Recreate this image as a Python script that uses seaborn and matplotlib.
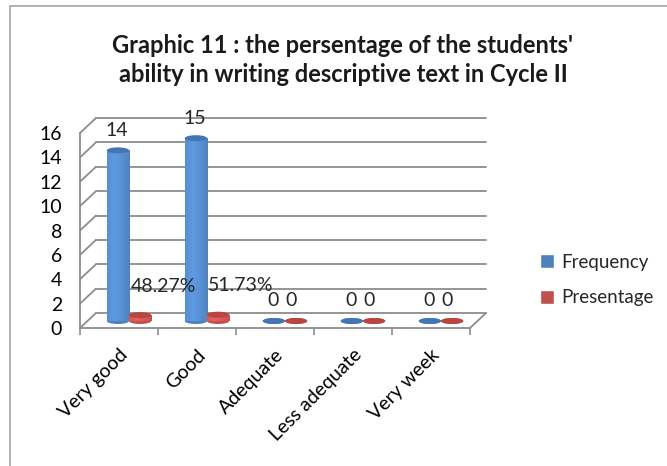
import numpy as np
import pandas as pd
import matplotlib
matplotlib.use("Agg")
import matplotlib.pyplot as plt
import matplotlib.transforms as mtrans
from matplotlib.patches import Ellipse, Rectangle
from matplotlib.colors import to_rgb
import seaborn as sns

# ---- data ----
categories = ["Very good", "Good", "Adequate", "Less adequate", "Very week"]
frequency = [14, 15, 0, 0, 0]
presentage = [0.4827, 0.5173, 0, 0, 0]
series_names = ["Frequency", "Presentage"]
y_ticks = [0, 2, 4, 6, 8, 10, 12, 14, 16]
title = "Graphic 11 : the persentage of the students'\nability in writing descriptive text in Cycle II"

df = pd.DataFrame({
    "Category": categories * 2,
    "Value": frequency + presentage,
    "Series": [series_names[0]] * len(categories) + [series_names[1]] * len(categories),
})

sns.set_style("white")
plt.rcParams["font.family"] = ["Lato", "DejaVu Sans"]

W, H = 667, 466
fig = plt.figure(figsize=(W / 100, H / 100), dpi=100)
ax = fig.add_axes([80 / W, (H - 328) / H, 390 / W, 195 / H])

blue, red = "#4F81BD", "#C0504D"
sns.barplot(data=df, x="Category", y="Value", hue="Series",
            palette=[blue, red], width=0.57, saturation=1, ax=ax, legend=True)
xlim = (-0.5, len(categories) - 0.5)
ylim = (y_ticks[0], y_ticks[-1])
ax.set_xlim(*xlim)
ax.set_ylim(*ylim)
for s in ax.spines.values():
    s.set_visible(False)
ax.set_xlabel("")
ax.set_ylabel("")

FS = 14
grid_c = "#8c8c8c"
# pseudo-3D depth offset (pixels) converted into data units
px_x = ax.bbox.width / (len(categories))
px_y = ax.bbox.height / (y_ticks[-1] - y_ticks[0])
depth_px = (16, 15)
dx, dy = depth_px[0] / px_x, depth_px[1] / px_y
x0, x1 = xlim

# back wall gridlines and side connectors
for v in y_ticks:
    ax.plot([x0 + dx, x1 + dx], [v + dy, v + dy], color=grid_c, lw=1.3, clip_on=False, zorder=0)
    ax.plot([x0, x0 + dx], [v, v + dy], color=grid_c, lw=1.3, clip_on=False, zorder=0)
# front axis, floor front edge and right floor edge
ax.plot([x0, x0], [y_ticks[0], y_ticks[-1]], color=grid_c, lw=1.3, clip_on=False, zorder=0)
ax.plot([x0, x1], [0, 0], color=grid_c, lw=1.3, clip_on=False, zorder=0)
ax.plot([x1, x1 + dx], [0, dy], color=grid_c, lw=1.3, clip_on=False, zorder=0)

# ticks
ax.set_yticks(y_ticks)
ax.tick_params(axis="y", length=5, width=1.2, color=grid_c, labelsize=FS, pad=8, labelcolor="black")
ax.set_xticks(range(len(categories)))
ax.set_xticks(np.arange(len(categories) + 1) - 0.5, minor=True)
ax.tick_params(axis="x", which="major", length=0, labelsize=FS, pad=13, labelcolor="black")
ax.tick_params(axis="x", which="minor", length=5, width=1.2, color=grid_c, bottom=True)
ax.set_xticklabels(categories, rotation=45, ha="right", rotation_mode="anchor")

# cylinders: shift bars to mid depth, add shading and caps
mid = mtrans.offset_copy(ax.transData, fig=fig, x=10, y=7, units="dots")
cap_h = 6 / px_y
tops = {blue: "#4476b5", red: "#b8453f"}
u = np.linspace(0, 1, 60)
shade = 0.55 + 0.45 * np.clip(1 - np.abs(u - 0.35) / 0.65, 0, 1) ** 0.8
for cont, col in zip(ax.containers, [blue, red]):
    rgb = np.array(to_rgb(col))
    grad = np.clip(rgb[None, :] * (0.75 + 0.45 * shade[:, None]), 0, 1)[None, :, :]
    for p in cont:
        p.set_transform(mid)
        p.set_edgecolor("none")
        p.set_zorder(2)
        x, w, h = p.get_x(), p.get_width(), p.get_height()
        cx = x + w / 2
        ax.add_patch(Ellipse((cx, 0), w, cap_h, transform=mid,
                             facecolor=col, edgecolor="none", zorder=1.9, clip_on=False))
        if h > 0:
            im = ax.imshow(grad, extent=[x, x + w, 0, h], aspect="auto",
                           interpolation="bilinear", zorder=2.05)
            im.set_transform(mid)
            im.set_clip_path(p)
        ax.add_patch(Ellipse((cx, h), w, cap_h, transform=mid,
                             facecolor=tops[col], edgecolor="none", zorder=2.1, clip_on=False))
ax.set_xlim(*xlim)
ax.set_ylim(*ylim)
ax.set_aspect("auto")

# data labels
for p, v in zip(ax.containers[0], frequency):
    cx = p.get_x() + p.get_width() / 2
    ax.annotate(f"{v}", xy=(cx, p.get_height()), xycoords=mid, xytext=(-1, 20),
                textcoords="offset pixels", ha="center", va="center", fontsize=FS)
for p, v in zip(ax.containers[1], presentage):
    cx = p.get_x() + p.get_width() / 2
    if v == 0:
        txt, off = "0", (-5, 21)
    else:
        txt, off = f"{v * 100:.2f}%", (23, 29)
    ax.annotate(txt, xy=(cx, p.get_height()), xycoords=mid, xytext=off,
                textcoords="offset pixels", ha="center", va="center", fontsize=FS)

# legend
handles, labels = ax.get_legend_handles_labels()
if ax.get_legend() is not None:
    ax.get_legend().remove()
fig.legend(handles, labels, loc="center left", bbox_to_anchor=(540 / W, (H - 280) / H),
           frameon=False, borderpad=0, borderaxespad=0,
           handlelength=0.72, handleheight=0.72, handletextpad=0.4,
           labelspacing=1.0, fontsize=13.5)

# title
fig.text(343 / W, 1 - 60 / H, title, ha="center", va="center", fontsize=17,
         fontweight="bold", linespacing=1.3, color="#1a1a1a")

# chart frame
fig.add_artist(Rectangle((10 / W, -0.05), 1.0, 1 - 6 / H + 0.05, transform=fig.transFigure,
                         fill=False, edgecolor="#a6a6a6", lw=1.2))

fig.savefig("out.png", dpi=100)
